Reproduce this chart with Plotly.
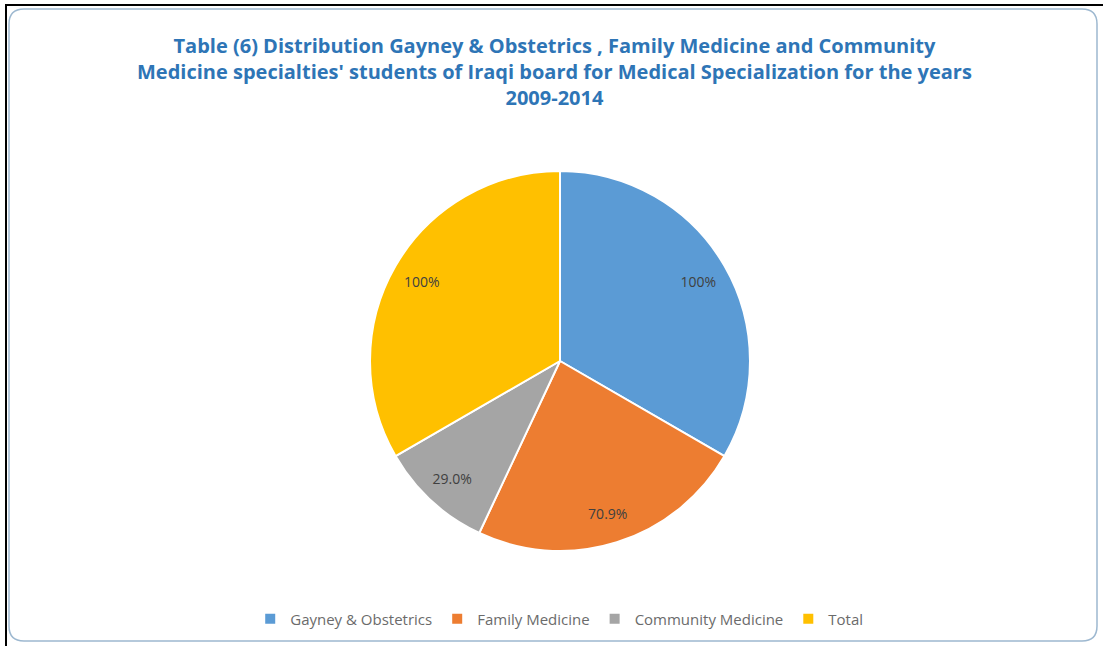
import plotly.graph_objects as go

categories = ["Gayney & Obstetrics", "Family Medicine", "Community Medicine", "Total"]
values = [100, 70.9, 29.0, 100]
value_labels = ["100%", "70.9%", "29.0%", "100%"]
colors = ["#5B9BD5", "#ED7D31", "#A5A5A5", "#FFC000"]

W, H = 1103, 646
pie_domain = dict(x=[370 / W, 750 / W], y=[1 - 552 / H, 1 - 170 / H])

fig = go.Figure()
# the coloured pie
fig.add_trace(go.Pie(
    labels=categories,
    values=values,
    textinfo="none",
    marker=dict(colors=colors, line=dict(color="white", width=2)),
    sort=False,
    direction="clockwise",
    rotation=0,
    domain=pie_domain,
    hoverinfo="label+value",
))
# transparent ring carrying the data labels near the rim
fig.add_trace(go.Pie(
    labels=categories,
    values=values,
    text=value_labels,
    textinfo="text",
    textposition="inside",
    insidetextorientation="horizontal",
    textfont=dict(family="Open Sans, Calibri, sans-serif", size=14, color="#404040"),
    marker=dict(colors=["rgba(0,0,0,0)"] * len(values), line=dict(width=0)),
    hole=0.68,
    sort=False,
    direction="clockwise",
    rotation=0,
    domain=pie_domain,
    showlegend=False,
    hoverinfo="skip",
))

fig.update_layout(
    width=W, height=H,
    margin=dict(l=0, r=0, t=0, b=0),
    paper_bgcolor="white",
    plot_bgcolor="white",
    showlegend=True,
    legend=dict(
        orientation="h",
        x=0.507, xanchor="center",
        y=1 - 619 / H, yanchor="middle",
        font=dict(family="Open Sans, Calibri, sans-serif", size=15, color="#6b6b6b"),
        traceorder="normal",
    ),
    annotations=[dict(
        text="<b>Table (6) Distribution Gayney &amp; Obstetrics , Family Medicine and Community<br>"
             "Medicine specialties' students of Iraqi board for Medical Specialization for the years<br>"
             "2009-2014</b>",
        x=0.503, y=1 - 72 / H, xref="paper", yref="paper",
        xanchor="center", yanchor="middle",
        showarrow=False,
        font=dict(family="Open Sans, Calibri, sans-serif", size=20, color="#2E75B6"),
        align="center",
    )],
    shapes=[
        # outer black frame (left and top)
        dict(type="line", xref="paper", yref="paper", x0=6 / W, x1=6 / W, y0=0, y1=1 - 5 / H,
             line=dict(color="black", width=2)),
        dict(type="line", xref="paper", yref="paper", x0=5 / W, x1=1, y0=1 - 5 / H, y1=1 - 5 / H,
             line=dict(color="black", width=2)),
        # inner rounded chart-area border
        dict(type="path", xref="paper", yref="paper",
             path=("M {a},{b} L {c},{b} Q {d},{b} {d},{e} L {d},{f} Q {d},{g} {c},{g} "
                   "L {a},{g} Q {h},{g} {h},{f} L {h},{e} Q {h},{b} {a},{b} Z").format(
                 a=24 / W, b=1 - 9 / H, c=1082 / W, d=1097 / W, e=1 - 24 / H,
                 f=1 - 626 / H, g=1 - 641 / H, h=9 / W),
             line=dict(color="#9DB8D0", width=1.5)),
    ],
)

fig.write_html("out.html")
